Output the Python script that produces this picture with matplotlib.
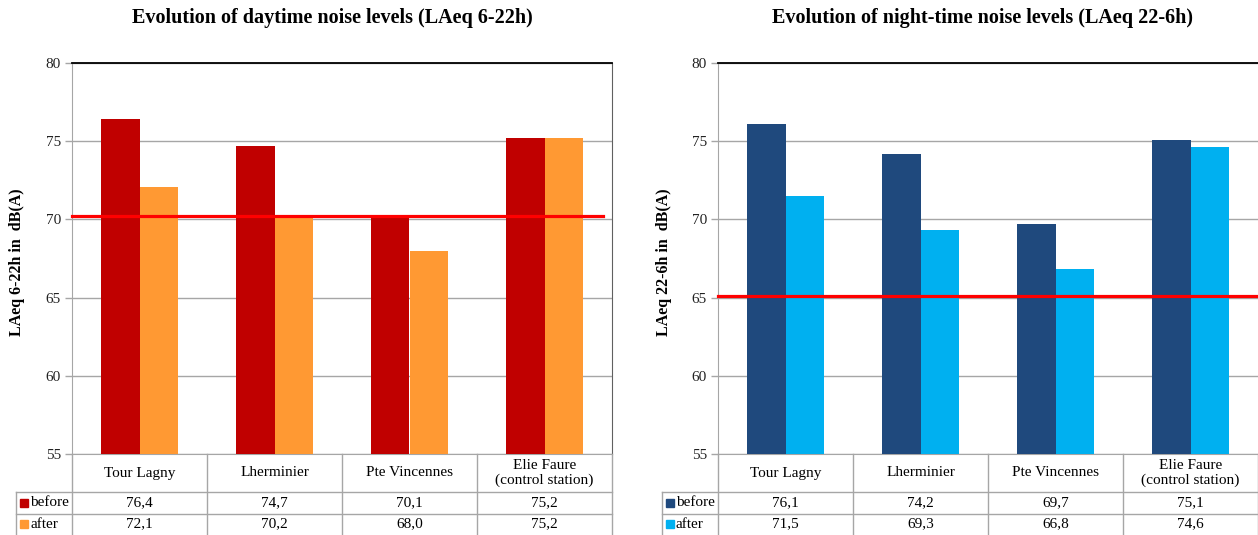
import matplotlib
matplotlib.use("Agg")
import matplotlib.pyplot as plt
import numpy as np

plt.rcParams['font.family'] = ['Liberation Serif', 'DejaVu Serif']

# data
stations = ["Tour Lagny", "Lherminier", "Pte Vincennes", "Elie Faure\n(control station)"]
series_names = ["before", "after"]
day_before = [76.4, 74.7, 70.1, 75.2]
day_after = [72.1, 70.2, 68.0, 75.2]
night_before = [76.1, 74.2, 69.7, 75.1]
night_after = [71.5, 69.3, 66.8, 74.6]
day_limit = 70.2
night_limit = 65.1
yticks = [55, 60, 65, 70, 75, 80]

W, H = 1258, 535
fig = plt.figure(figsize=(W / 100, H / 100), dpi=100)


def px_axes(x0, y0, x1, y1):
    return fig.add_axes([x0 / W, 1 - y1 / H, (x1 - x0) / W, (y1 - y0) / H])


def fmt(v):
    return f"{v:.1f}".replace(".", ",")


def panel(x0, x1, title, title_x, ylabel, ylabel_x, before, after, limit,
          colors, show_right):
    ax = px_axes(x0, 63, x1, 454)
    n = len(stations)
    x = np.arange(n)
    w = 0.285
    ax.bar(x - w / 2, before, w, color=colors[0], zorder=3)
    ax.bar(x + w / 2, after, w, color=colors[1], zorder=3)
    ax.axhline(limit, xmin=0.0, xmax=0.983 if show_right else 1.0,
               color="#FF0000", lw=2.3, zorder=4, clip_on=False)
    ax.set_xlim(-0.5, n - 0.5)
    ax.set_ylim(yticks[0], yticks[-1])
    ax.set_yticks(yticks)
    ax.set_xticks([])
    ax.yaxis.grid(True, color="#A6A6A6", lw=1.0, zorder=0)
    ax.tick_params(axis="y", length=5, width=1, color="#A6A6A6",
                   labelsize=11, pad=3, labelcolor="#222222")
    ax.spines["top"].set_color("black")
    ax.spines["top"].set_linewidth(1.3)
    ax.spines["left"].set_color("#A6A6A6")
    ax.spines["bottom"].set_color("#A6A6A6")
    ax.spines["right"].set_color("#606060")
    ax.spines["right"].set_visible(show_right)

    fig.text(title_x / W, 1 - 18 / H, title, ha="center", va="center",
             fontsize=14.5, fontweight="bold")
    fig.text(ylabel_x / W, 1 - 262 / H, ylabel, ha="center", va="center",
             rotation=90, fontsize=11.5, fontweight="bold")

    # data table under the chart
    tax = px_axes(x0, 454, x1, 535)
    tax.set_xlim(ax.get_xlim())
    tax.set_ylim(81, 0)
    tax.axis("off")
    unit = (x1 - x0) / n
    hdr = -0.5 - 56 / unit
    lc = "#A6A6A6"
    kw = dict(color=lc, lw=1, clip_on=False)
    for b in np.arange(n + 1) - 0.5:
        tax.plot([b, b], [0, 83], **kw)
    tax.plot([hdr, hdr], [38, 83], **kw)
    for yy in (38, 60):
        tax.plot([hdr, n - 0.5], [yy, yy], **kw)
    for i, name in enumerate(stations):
        tax.text(i, 19, name, ha="center", va="center", fontsize=11,
                 linespacing=1.1)
    rows = [before, after]
    for r, (lab, vals) in enumerate(zip(series_names, rows)):
        yy = 49 + 21 * r
        tax.plot([hdr + 8 / unit], [yy], marker="s", ms=6, color=colors[r],
                 clip_on=False, lw=0)
        tax.text(hdr + 14 / unit, yy, lab, ha="left", va="center",
                 fontsize=11)
        for i, v in enumerate(vals):
            tax.text(i, yy, fmt(v), ha="center", va="center", fontsize=11)
    return ax


panel(72, 612, "Evolution of daytime noise levels (LAeq 6-22h)", 332,
      "LAeq 6-22h in  dB(A)", 17, day_before, day_after, day_limit,
      ["#C00000", "#FF9933"], True)
panel(718, 1258, "Evolution of night-time noise levels (LAeq 22-6h)", 982,
      "LAeq 22-6h in  dB(A)", 664, night_before, night_after, night_limit,
      ["#1F497D", "#00B0F0"], False)

fig.savefig("out.png", dpi=100)
